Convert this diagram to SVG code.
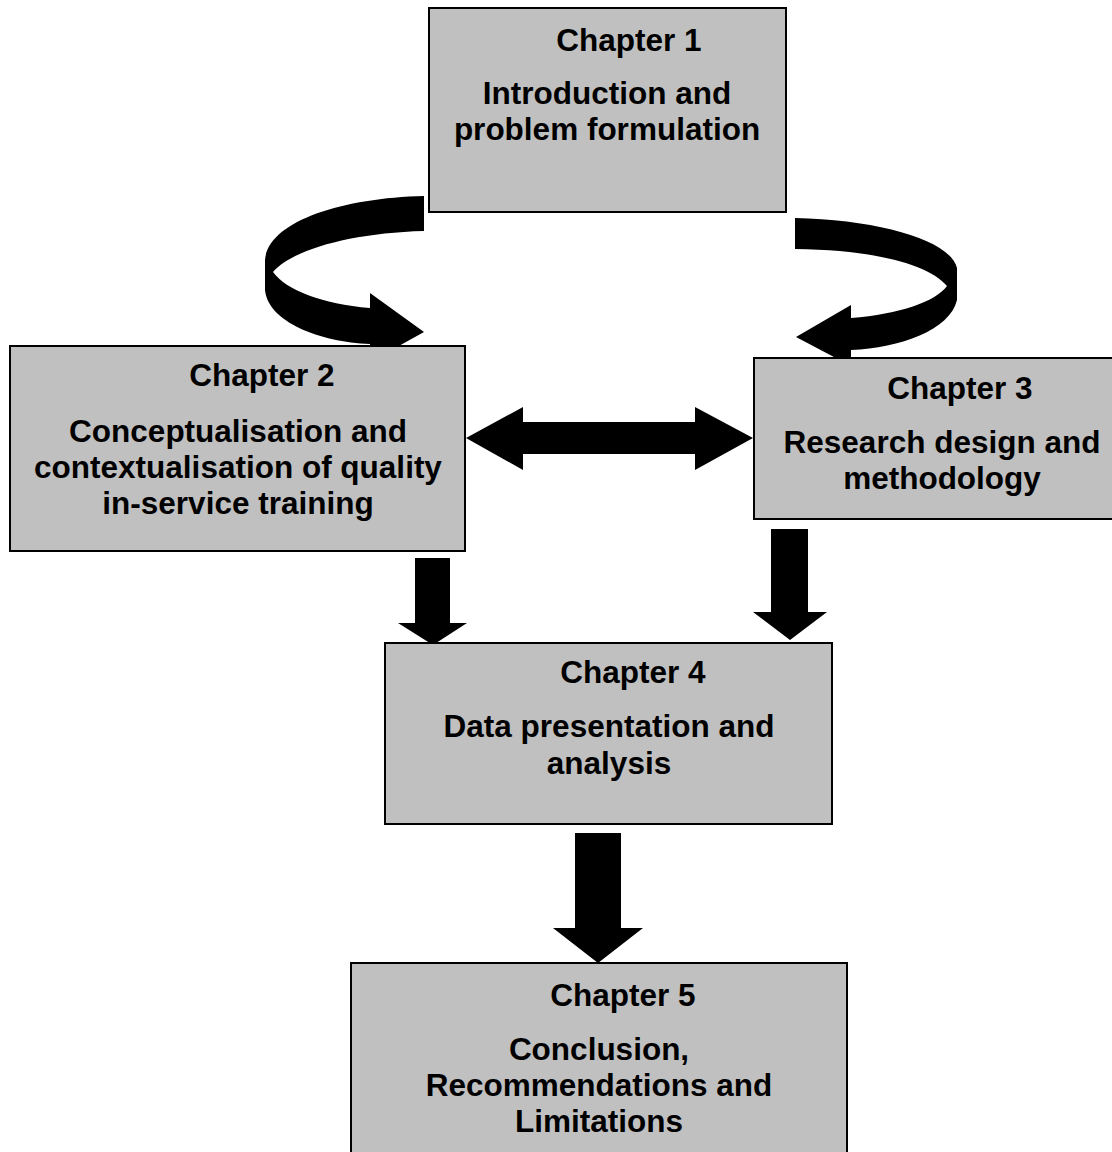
<svg xmlns="http://www.w3.org/2000/svg" width="1112" height="1152" viewBox="0 0 1112 1152">
<style>
.box{fill:#c0c0c0;stroke:#000;stroke-width:2}
.t{font-family:"Liberation Sans",Arial,sans-serif;font-weight:bold;font-size:31.5px;fill:#000;text-anchor:middle}
.arr{fill:#000;stroke:none}
</style>
<rect width="1112" height="1152" fill="#fff"/>
<g id="connectors">
<path class="arr" d="M424,196 C340,198 268,222 265,260 L265,290 C268,322 320,342 370,344 L370,362 L424,332 L370,293 L370,308 C322,304 286,290 273,272 C292,250 350,233 424,231 Z"/>
<path class="arr" d="M795,218 C880,220 950,240 957,268 L957,300 C950,330 900,348 851,350 L851,366 L796,337 L851,305 L851,318 C900,314 935,302 947,286 C930,266 880,250 795,249 Z"/>
<path class="arr" d="M466,438 L523,407 L523,422 L695,422 L695,407 L753,438 L695,470 L695,454 L523,454 L523,470 Z"/>
<path class="arr" d="M415,558 L450,558 L450,623 L467,623 L433,645 L398,623 L415,623 Z"/>
<path class="arr" d="M771,529 L808,529 L808,612 L827,612 L790,640 L753,612 L771,612 Z"/>
<path class="arr" d="M575,833 L621,833 L621,928 L643,928 L598,963 L553,928 L575,928 Z"/>
</g>
<g id="chapter1">
<rect class="box" x="429" y="8" width="357" height="204"/>
<text class="t" x="629" y="51">Chapter 1</text>
<text class="t" x="607" y="104">Introduction and</text>
<text class="t" x="607" y="140">problem formulation</text>
</g>
<g id="chapter2">
<rect class="box" x="10" y="346" width="455" height="205"/>
<text class="t" x="262" y="386">Chapter 2</text>
<text class="t" x="238" y="442">Conceptualisation and</text>
<text class="t" x="238" y="478">contextualisation of quality</text>
<text class="t" x="238" y="514">in-service training</text>
</g>
<g id="chapter3">
<rect class="box" x="754" y="358" width="370" height="161"/>
<text class="t" x="960" y="399">Chapter 3</text>
<text class="t" x="942" y="453">Research design and</text>
<text class="t" x="942" y="489">methodology</text>
</g>
<g id="chapter4">
<rect class="box" x="385" y="643" width="447" height="181"/>
<text class="t" x="633" y="683">Chapter 4</text>
<text class="t" x="609" y="737">Data presentation and</text>
<text class="t" x="609" y="774">analysis</text>
</g>
<g id="chapter5">
<rect class="box" x="351" y="963" width="496" height="200"/>
<text class="t" x="623" y="1006">Chapter 5</text>
<text class="t" x="599" y="1060">Conclusion,</text>
<text class="t" x="599" y="1096">Recommendations and</text>
<text class="t" x="599" y="1132">Limitations</text>
</g>
</svg>
